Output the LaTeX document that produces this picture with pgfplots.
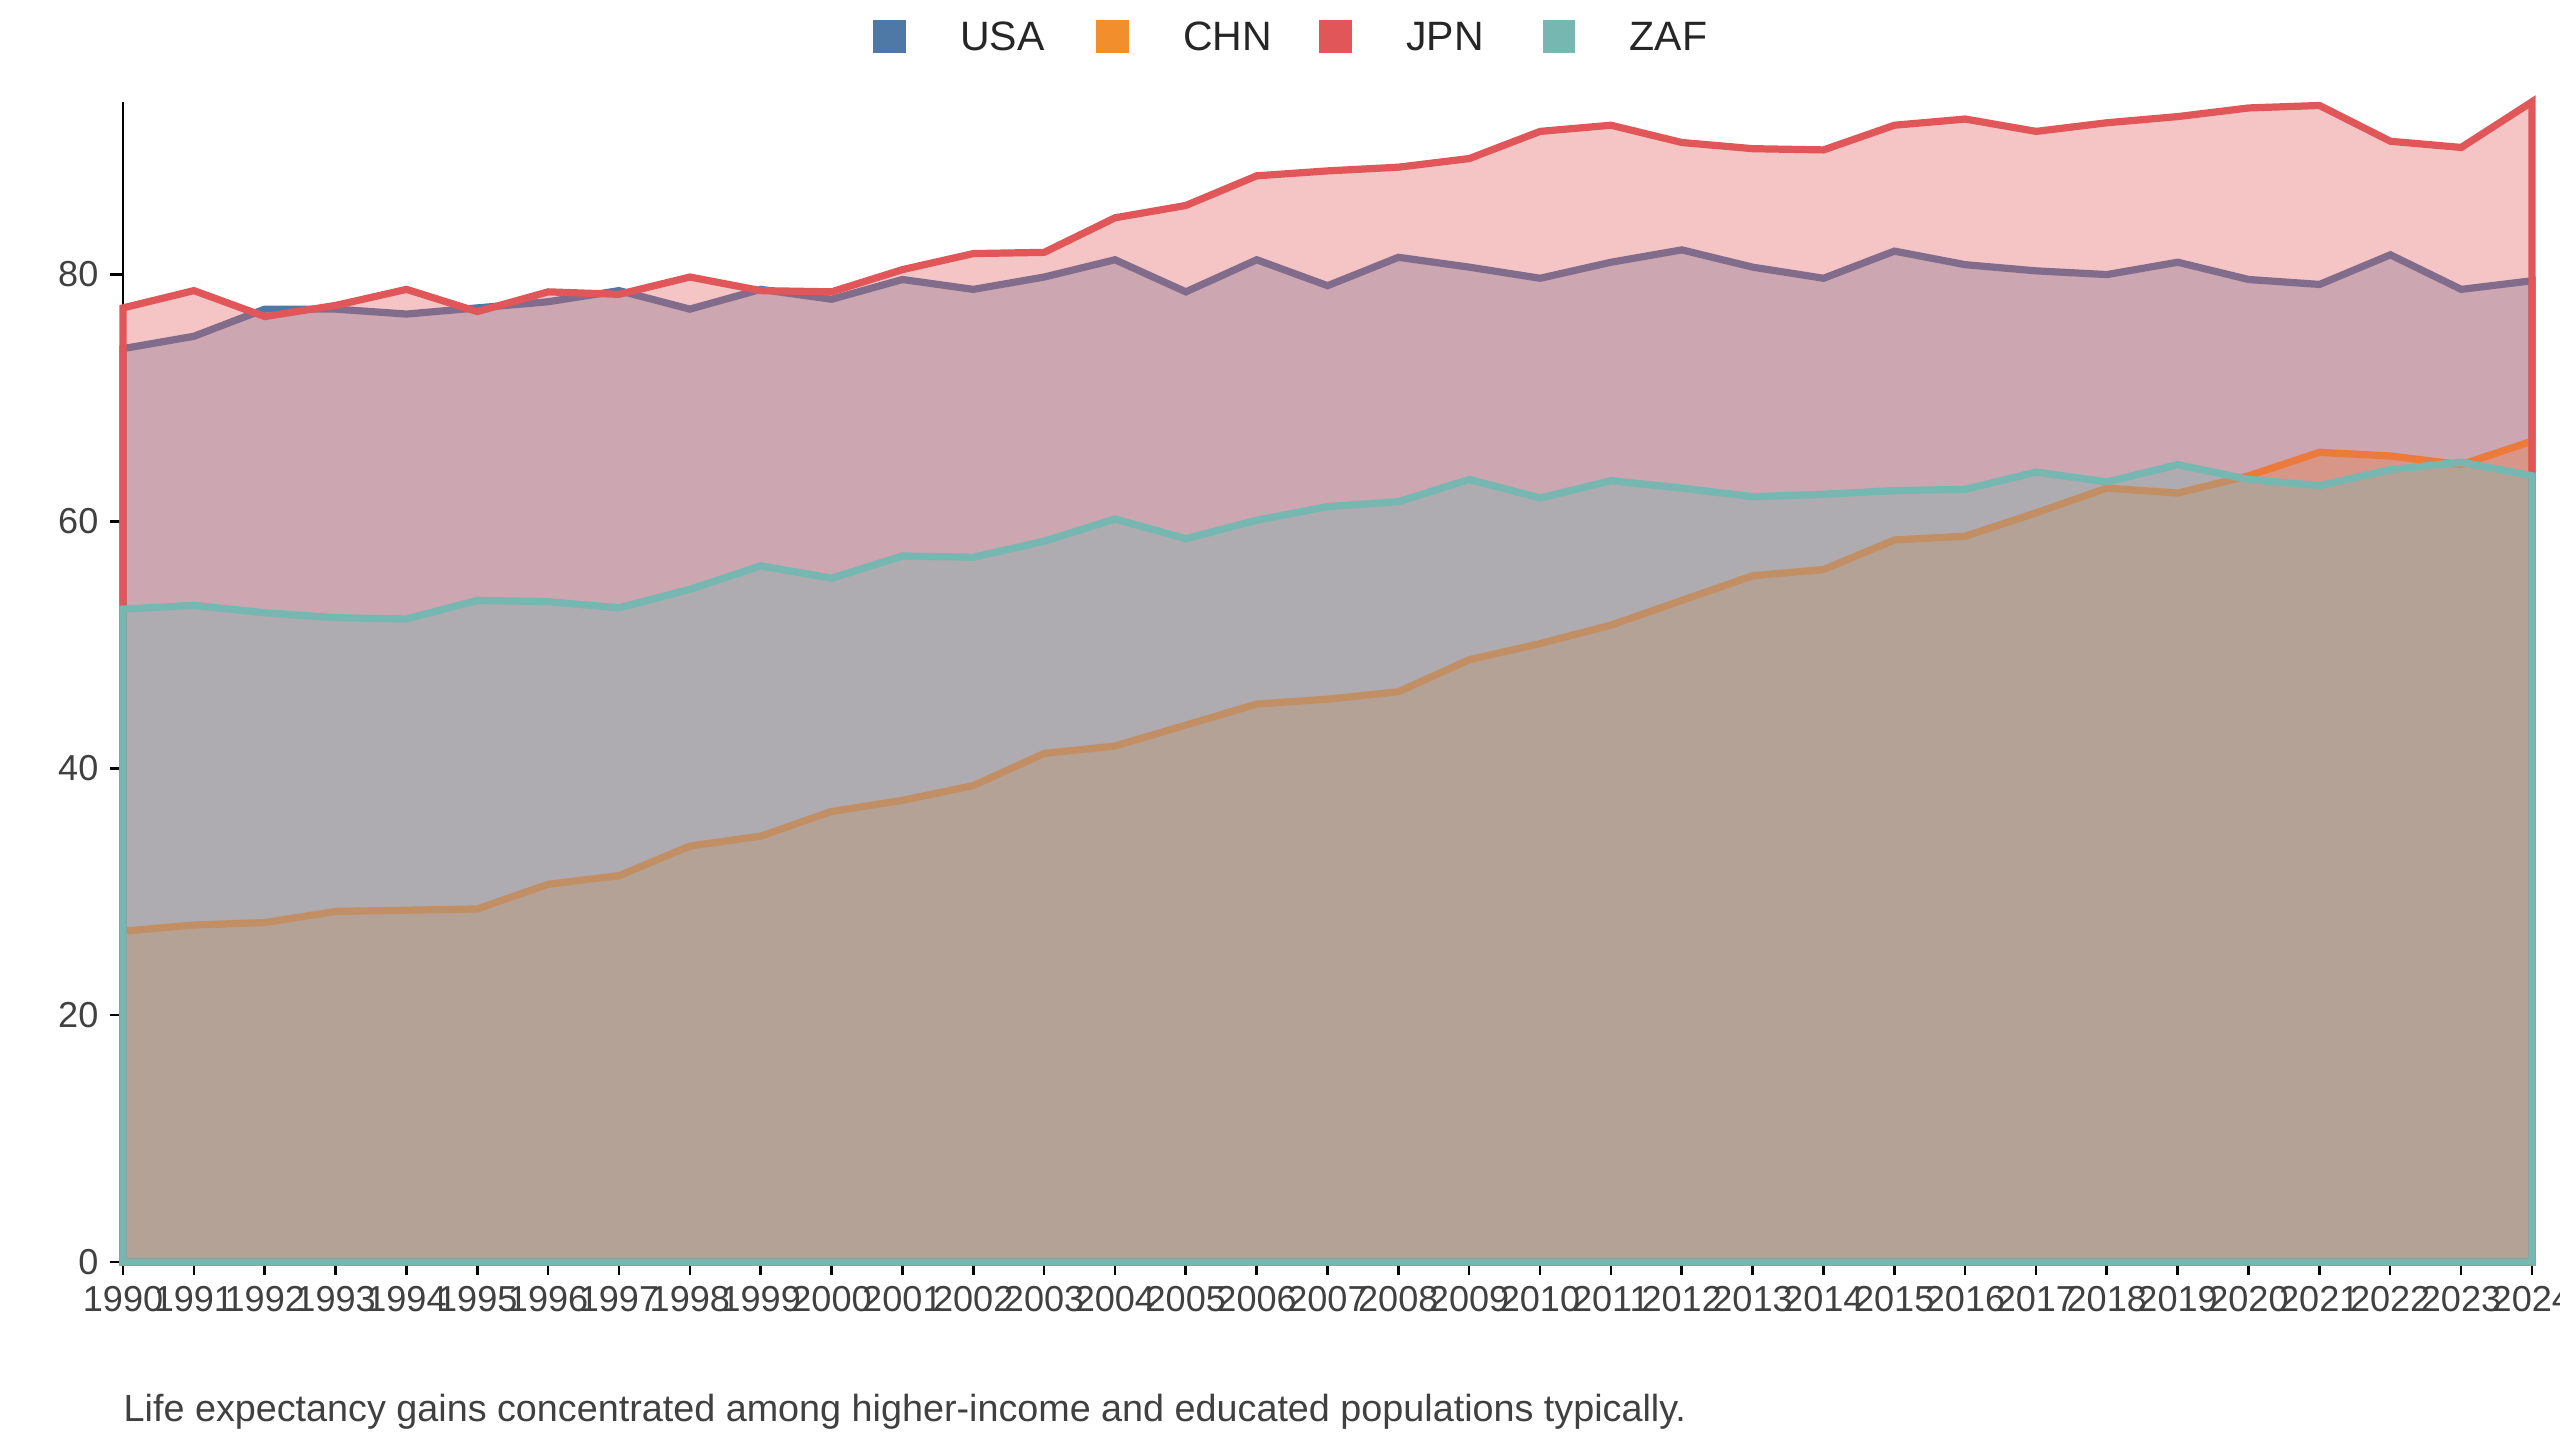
\documentclass[border=0pt]{standalone}
\usepackage{pgfplots}
\pgfplotsset{compat=1.18}
\usepackage{fontspec}
\setmainfont{Liberation Sans}
\definecolor{cU}{HTML}{4E79A7}
\definecolor{cC}{HTML}{F28E2B}
\definecolor{cJ}{HTML}{E15759}
\definecolor{cZ}{HTML}{76B7B2}
\begin{document}
\begin{tikzpicture}[x=1pt,y=1pt]
\useasboundingbox (-37.5,-55.5) rectangle (742.5,384.5);
\begin{axis}[at={(0,0)},anchor=south west,scale only axis,width=734pt,height=353.5pt,
xmin=1990,xmax=2024,ymin=0,ymax=94,axis lines=left,axis line style={-,thick},
xtick={1990,...,2024},ytick={0,20,...,80},tick align=outside,
x tick label style={/pgf/number format/1000 sep={}},
tick label style={font=\fontsize{11}{13}\selectfont,color=black!75},
/pgf/number format/assume math mode=true,
major tick length=4pt, every tick/.style={black,thick},
clip=false]
\addplot[draw=cU,line width=2.2pt,fill=cU,fill opacity=0.35] coordinates {(1990,74)(1991,75)(1992,77.2)(1993,77.2)(1994,76.8)(1995,77.3)(1996,77.8)(1997,78.7)(1998,77.2)(1999,78.8)(2000,78.0)(2001,79.6)(2002,78.8)(2003,79.8)(2004,81.2)(2005,78.6)(2006,81.2)(2007,79.1)(2008,81.4)(2009,80.6)(2010,79.7)(2011,81)(2012,82)(2013,80.6)(2014,79.7)(2015,81.9)(2016,80.8)(2017,80.3)(2018,80)(2019,81)(2020,79.6)(2021,79.2)(2022,81.6)(2023,78.8)(2024,79.5)} \closedcycle;
\addplot[draw=cC,line width=2.2pt,fill=cC,fill opacity=0.35] coordinates {(1990,26.8)(1991,27.3)(1992,27.5)(1993,28.4)(1994,28.5)(1995,28.6)(1996,30.6)(1997,31.3)(1998,33.7)(1999,34.5)(2000,36.5)(2001,37.4)(2002,38.6)(2003,41.2)(2004,41.8)(2005,43.5)(2006,45.2)(2007,45.6)(2008,46.2)(2009,48.8)(2010,50.1)(2011,51.6)(2012,53.6)(2013,55.6)(2014,56.1)(2015,58.5)(2016,58.8)(2017,60.7)(2018,62.7)(2019,62.3)(2020,63.7)(2021,65.6)(2022,65.3)(2023,64.6)(2024,66.5)} \closedcycle;
\addplot[draw=cJ,line width=2.2pt,fill=cJ,fill opacity=0.35] coordinates {(1990,77.3)(1991,78.7)(1992,76.6)(1993,77.5)(1994,78.8)(1995,77)(1996,78.6)(1997,78.4)(1998,79.8)(1999,78.7)(2000,78.6)(2001,80.4)(2002,81.7)(2003,81.8)(2004,84.6)(2005,85.6)(2006,88)(2007,88.4)(2008,88.7)(2009,89.4)(2010,91.6)(2011,92.1)(2012,90.7)(2013,90.2)(2014,90.1)(2015,92.1)(2016,92.6)(2017,91.6)(2018,92.3)(2019,92.8)(2020,93.5)(2021,93.7)(2022,90.8)(2023,90.3)(2024,94.0)} \closedcycle;
\addplot[draw=cZ,line width=2.2pt,fill=cZ,fill opacity=0.35] coordinates {(1990,52.9)(1991,53.2)(1992,52.6)(1993,52.2)(1994,52.1)(1995,53.6)(1996,53.5)(1997,53)(1998,54.5)(1999,56.4)(2000,55.4)(2001,57.2)(2002,57.1)(2003,58.4)(2004,60.2)(2005,58.6)(2006,60.1)(2007,61.2)(2008,61.6)(2009,63.4)(2010,61.9)(2011,63.3)(2012,62.7)(2013,62)(2014,62.2)(2015,62.5)(2016,62.6)(2017,64)(2018,63.2)(2019,64.6)(2020,63.4)(2021,62.9)(2022,64.2)(2023,64.8)(2024,63.7)} \closedcycle;
\end{axis}
\begin{scope}[font=\fontsize{12.5}{14}\selectfont]
\foreach \xx/\c/\t in {233.5/cU/USA,301.5/cC/CHN,369.5/cJ/JPN,437.5/cZ/ZAF}{
 \fill[\c] (\xx-5,368.5) rectangle (\xx+5,378.5);
 \node[anchor=west,text=black!85] at (\xx+18,373.5) {\t};
}
\node[anchor=west,font=\fontsize{11.5}{13}\selectfont,text=black!75,inner sep=0] at (0,-45.5) {Life expectancy gains concentrated among higher-income and educated populations typically.};
\end{scope}
\end{tikzpicture}
\end{document}
